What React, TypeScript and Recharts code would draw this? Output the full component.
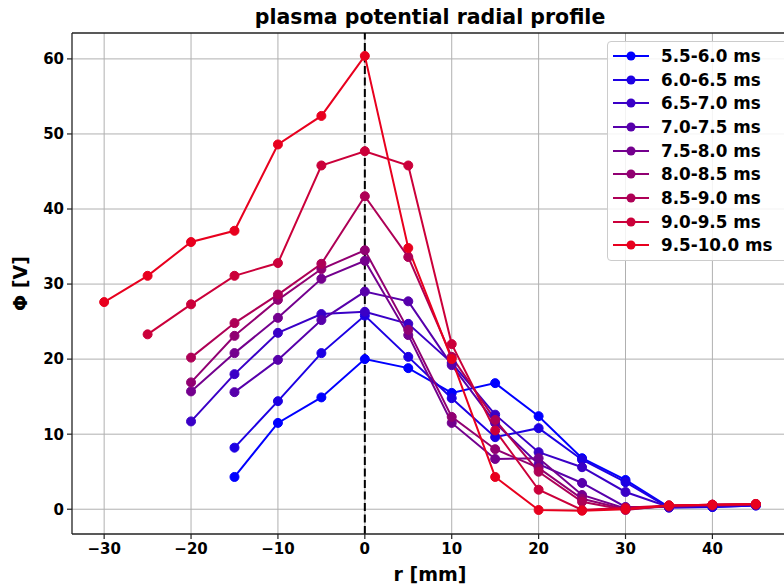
import React from 'react';
import { LineChart, Line, XAxis, YAxis, CartesianGrid, ReferenceLine, Legend, Label } from 'recharts';

const radii = [-30, -25, -20, -15, -10, -5, 0, 5, 10, 15, 20, 25, 30, 35, 40, 45];

const s55_60 = [null, null, null, 4.3, 11.5, 14.9, 20.0, 18.8, 15.5, 16.8, 12.4, 6.8, 3.9, 0.3, 0.3, 0.5];
const s60_65 = [null, null, null, 8.2, 14.4, 20.8, 25.8, 20.3, 14.8, 9.6, 10.8, 6.6, 3.6, 0.2, 0.3, 0.5];
const s65_70 = [null, null, 11.7, 18.0, 23.5, 26.0, 26.3, 24.7, 19.5, 12.6, 7.6, 5.6, 2.3, 0.3, 0.5, 0.6];
const s70_75 = [null, null, null, 15.6, 19.9, 25.2, 29.0, 27.7, 19.2, 11.5, 6.0, 3.5, 0.3, 0.3, 0.5, 0.6];
const s75_80 = [null, null, 15.7, 20.8, 25.5, 30.7, 33.1, 23.2, 11.5, 6.7, 6.8, 1.9, 0.1, 0.4, 0.5, 0.6];
const s80_85 = [null, null, 16.9, 23.1, 27.9, 32.0, 34.5, 23.9, 12.3, 8.0, 5.5, 1.4, 0.0, 0.4, 0.6, 0.6];
const s85_90 = [null, null, 20.2, 24.8, 28.6, 32.7, 41.7, 33.6, 20.3, 11.9, 5.0, 1.0, -0.1, 0.5, 0.6, 0.7];
const s90_95 = [null, 23.3, 27.3, 31.1, 32.8, 45.8, 47.7, 45.8, 22.0, 10.5, 2.6, -0.1, 0.2, 0.5, 0.6, 0.7];
const s95_100 = [27.6, 31.1, 35.6, 37.1, 48.6, 52.4, 60.4, 34.8, 20.0, 4.3, -0.1, -0.2, 0.0, 0.5, 0.6, 0.7];

const seriesNames = ['5.5-6.0 ms', '6.0-6.5 ms', '6.5-7.0 ms', '7.0-7.5 ms', '7.5-8.0 ms', '8.0-8.5 ms', '8.5-9.0 ms', '9.0-9.5 ms', '9.5-10.0 ms'];
const seriesValues = [s55_60, s60_65, s65_70, s70_75, s75_80, s80_85, s85_90, s90_95, s95_100];
const seriesColors = ['#0000ff', '#1d00e3', '#3a00c7', '#5700ab', '#74008e', '#910072', '#ae0056', '#cb003a', '#e8001e'];

const xTicks = [-30, -20, -10, 0, 10, 20, 30, 40];
const yTicks = [0, 10, 20, 30, 40, 50, 60];

const rows = radii.map((r, i) => {
  const row: Record<string, number | null> = { r };
  seriesValues.forEach((vals, k) => {
    row['s' + k] = vals[i];
  });
  return row;
});

const FONT = 'DejaVu Sans';
const fmt = (v: number) => String(v).replace('-', '\u2212');

const LegendBox = () => (
  <div
    style={{
      border: '1px solid #cccccc',
      borderRadius: 4,
      background: 'rgba(255,255,255,0.85)',
      width: 200,
      height: 220,
      paddingTop: 2,
      boxSizing: 'border-box',
      fontFamily: FONT,
    }}
  >
    {seriesNames.map((name, k) => (
      <div key={name} style={{ height: 23.7, display: 'flex', alignItems: 'center' }}>
        <svg width={50} height={20} style={{ flex: 'none' }}>
          <line x1={5} y1={10} x2={41} y2={10} stroke={seriesColors[k]} strokeWidth={2} />
          <circle cx={23} cy={10} r={4.5} fill={seriesColors[k]} />
        </svg>
        <span style={{ marginLeft: 3, fontWeight: 'bold', fontSize: 16.8, color: '#000', whiteSpace: 'nowrap' }}>{name}</span>
      </div>
    ))}
  </div>
);

export default function App() {
  return (
    <div style={{ position: 'absolute', left: 0, top: 0, width: 784, height: 587, overflow: 'hidden', background: '#fff' }}>
      <div
        style={{
          position: 'absolute',
          left: 0,
          top: 5,
          width: 860,
          textAlign: 'center',
          fontFamily: FONT,
          fontWeight: 'bold',
          fontSize: 20.5,
          color: '#000',
          zIndex: 2,
        }}
      >
        plasma potential radial profile
      </div>
      <LineChart width={800} height={587} data={rows} margin={{ top: 33, right: 12, bottom: 0, left: 0 }}>
        <CartesianGrid stroke="#b0b0b0" strokeWidth={1} horizontalValues={yTicks} verticalValues={xTicks} />
        <XAxis
          dataKey="r"
          type="number"
          domain={[-33.7, 48.7]}
          allowDataOverflow
          ticks={xTicks}
          tickFormatter={fmt}
          height={53}
          tickSize={5}
          tickMargin={4}
          stroke="#222"
          tick={{ fill: '#000', fontSize: 15, fontWeight: 'bold', fontFamily: FONT }}
          axisLine={{ stroke: '#222', strokeWidth: 1.3 }}
          tickLine={{ stroke: '#222', strokeWidth: 1.2 }}
        >
          <Label value="r [mm]" position="insideBottom" offset={6} style={{ fill: '#000', fontSize: 19, fontWeight: 'bold', fontFamily: FONT }} />
        </XAxis>
        <YAxis
          type="number"
          domain={[-3.3, 63.45]}
          allowDataOverflow
          ticks={yTicks}
          tickFormatter={fmt}
          width={72}
          tickSize={5}
          tickMargin={3}
          tick={{ fill: '#000', fontSize: 15, fontWeight: 'bold', fontFamily: FONT }}
          axisLine={{ stroke: '#222', strokeWidth: 1.3 }}
          tickLine={{ stroke: '#222', strokeWidth: 1.2 }}
        >
          <Label value="Φ [V]" angle={-90} position="insideLeft" offset={20} style={{ fill: '#000', fontSize: 19, fontWeight: 'bold', fontFamily: FONT, textAnchor: 'middle' }} />
        </YAxis>
        <ReferenceLine y={63.45} stroke="#222" strokeWidth={1.3} ifOverflow="visible" />
        <ReferenceLine x={0} stroke="#000" strokeWidth={2} strokeDasharray="8 3.5" />
        {seriesNames.map((name, k) => (
          <Line
            key={name}
            name={name}
            dataKey={'s' + k}
            stroke={seriesColors[k]}
            strokeWidth={2}
            dot={{ r: 4.5, fill: seriesColors[k], stroke: seriesColors[k], strokeWidth: 1 }}
            activeDot={false}
            isAnimationActive={false}
          />
        ))}
        <Legend
          layout="vertical"
          align="center"
          verticalAlign="middle"
          content={() => <LegendBox />}
          wrapperStyle={{ position: 'absolute', left: 607, top: 41, width: 200, height: 220 }}
        />
      </LineChart>
    </div>
  );
}
